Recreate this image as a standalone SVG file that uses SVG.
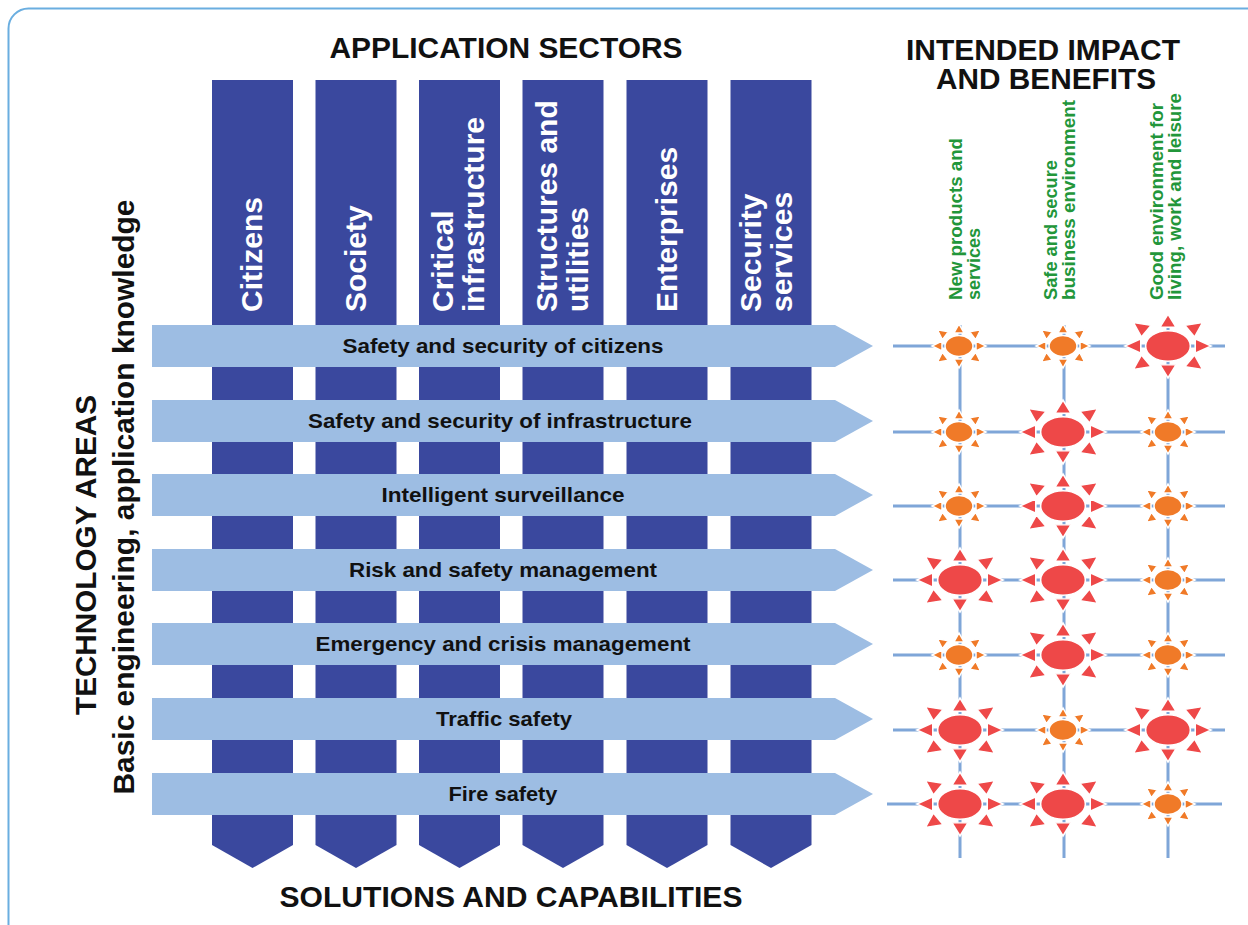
<svg xmlns="http://www.w3.org/2000/svg" xmlns:xlink="http://www.w3.org/1999/xlink" width="1248" height="925" viewBox="0 0 1248 925">
<style>
.col{fill:#3A489E}
.bar{fill:#9DBDE3}
.colt{font-family:"Liberation Sans",Arial,sans-serif;font-weight:bold;font-size:30px;fill:#FFFFFF}
.rowt{font-family:"Liberation Sans",Arial,sans-serif;font-weight:bold;font-size:21px;fill:#111111;text-anchor:middle}
.title{font-family:"Liberation Sans",Arial,sans-serif;font-weight:bold;font-size:29px;fill:#111111;text-anchor:middle}
.side{font-family:"Liberation Sans",Arial,sans-serif;font-weight:bold;font-size:29.5px;fill:#111111;text-anchor:middle}
.green{font-family:"Liberation Sans",Arial,sans-serif;font-weight:bold;font-size:18px;fill:#22963A}
.grid{stroke:#7FA6D8;stroke-width:3;fill:none}
.sS{fill:#F07A28;stroke:#FFFFFF;stroke-width:1.5}
.sL{fill:#EE4848;stroke:#FFFFFF;stroke-width:1}
</style>
<defs>
<g id="star">
<ellipse cx="0" cy="0" rx="14" ry="10.5"/>
<path d="M17,-5 L27,0 L17,5Z M-17,-5 L-27,0 L-17,5Z M-5,-13 L0,-22 L5,-13Z M-5,13 L0,22 L5,13Z M16.6,-6.2 L21.6,-16.2 L10.6,-14.2Z M-16.6,-6.2 L-21.6,-16.2 L-10.6,-14.2Z M16.6,6.2 L21.6,16.2 L10.6,14.2Z M-16.6,6.2 L-21.6,16.2 L-10.6,14.2Z"/>
</g>
</defs>
<rect x="8.5" y="8.5" width="1300" height="1000" rx="20" ry="20" fill="none" stroke="#6AAEE0" stroke-width="2"/>

<text class="title" x="506" y="58" textLength="353" lengthAdjust="spacingAndGlyphs">APPLICATION SECTORS</text>
<text class="title" x="1043" y="60" textLength="274" lengthAdjust="spacingAndGlyphs">INTENDED IMPACT</text>
<text class="title" x="1046" y="89" textLength="220" lengthAdjust="spacingAndGlyphs">AND BENEFITS</text>
<text class="title" x="511" y="907" font-size="30" textLength="463" lengthAdjust="spacingAndGlyphs">SOLUTIONS AND CAPABILITIES</text>
<text class="side" transform="translate(96,555) rotate(-90)" textLength="320" lengthAdjust="spacingAndGlyphs">TECHNOLOGY AREAS</text>
<text class="side" transform="translate(134,497) rotate(-90)" textLength="595" lengthAdjust="spacingAndGlyphs">Basic engineering, application knowledge</text>

<g id="col-citizens"><path class="col" d="M212,80 H293 V845 L252.5,868 L212,845Z"/><text class="colt" transform="translate(262,312) rotate(-90)">Citizens</text></g>
<g id="col-society"><path class="col" d="M315.5,80 H396.5 V845 L356,868 L315.5,845Z"/><text class="colt" transform="translate(366,312) rotate(-90)">Society</text></g>
<g id="col-critical"><path class="col" d="M419,80 H500 V845 L459.5,868 L419,845Z"/><text class="colt" transform="translate(453,312) rotate(-90)"><tspan x="0" y="0">Critical</tspan><tspan x="0" y="31">infrastructure</tspan></text></g>
<g id="col-structures"><path class="col" d="M522.5,80 H603.5 V845 L563,868 L522.5,845Z"/><text class="colt" transform="translate(557,312) rotate(-90)"><tspan x="0" y="0">Structures and</tspan><tspan x="0" y="31">utilities</tspan></text></g>
<g id="col-enterprises"><path class="col" d="M626.5,80 H707.5 V845 L667,868 L626.5,845Z"/><text class="colt" transform="translate(677,312) rotate(-90)">Enterprises</text></g>
<g id="col-security"><path class="col" d="M730.5,80 H811.5 V845 L771,868 L730.5,845Z"/><text class="colt" transform="translate(761,312) rotate(-90)"><tspan x="0" y="0">Security</tspan><tspan x="0" y="31">services</tspan></text></g>

<g id="row-citizens"><path class="bar" d="M152,325 H835 L873,346 L835,367 H152Z"/><text class="rowt" x="503" y="353" textLength="321" lengthAdjust="spacingAndGlyphs">Safety and security of citizens</text></g>
<g id="row-infrastructure"><path class="bar" d="M152,400 H835 L873,421 L835,442 H152Z"/><text class="rowt" x="500" y="428" textLength="384" lengthAdjust="spacingAndGlyphs">Safety and security of infrastructure</text></g>
<g id="row-surveillance"><path class="bar" d="M152,474 H835 L873,495 L835,516 H152Z"/><text class="rowt" x="503" y="502" textLength="243" lengthAdjust="spacingAndGlyphs">Intelligent surveillance</text></g>
<g id="row-risk"><path class="bar" d="M152,549 H835 L873,570 L835,591 H152Z"/><text class="rowt" x="503" y="577" textLength="308" lengthAdjust="spacingAndGlyphs">Risk and safety management</text></g>
<g id="row-emergency"><path class="bar" d="M152,623 H835 L873,644 L835,665 H152Z"/><text class="rowt" x="503" y="651" textLength="375" lengthAdjust="spacingAndGlyphs">Emergency and crisis management</text></g>
<g id="row-traffic"><path class="bar" d="M152,698 H835 L873,719 L835,740 H152Z"/><text class="rowt" x="504" y="726" textLength="136" lengthAdjust="spacingAndGlyphs">Traffic safety</text></g>
<g id="row-fire"><path class="bar" d="M152,773 H835 L873,794 L835,815 H152Z"/><text class="rowt" x="503" y="801" textLength="109" lengthAdjust="spacingAndGlyphs">Fire safety</text></g>

<g id="benefit-products"><text class="green" transform="translate(962,300) rotate(-90)"><tspan x="0" y="0" textLength="162" lengthAdjust="spacingAndGlyphs">New products and</tspan><tspan x="0" y="18" textLength="72" lengthAdjust="spacingAndGlyphs">services</tspan></text></g>
<g id="benefit-business"><text class="green" transform="translate(1057,300) rotate(-90)"><tspan x="0" y="0" textLength="140" lengthAdjust="spacingAndGlyphs">Safe and secure</tspan><tspan x="0" y="18" textLength="200" lengthAdjust="spacingAndGlyphs">business environment</tspan></text></g>
<g id="benefit-living"><text class="green" transform="translate(1163,300) rotate(-90)"><tspan x="0" y="0" textLength="197" lengthAdjust="spacingAndGlyphs">Good environment for</tspan><tspan x="0" y="18" textLength="207" lengthAdjust="spacingAndGlyphs">living, work and leisure</tspan></text></g>

<g id="connectors" class="grid">
<line x1="960" y1="325" x2="960" y2="858"/>
<line x1="1064" y1="325" x2="1064" y2="858"/>
<line x1="1168" y1="325" x2="1168" y2="858"/>
<line x1="893" y1="346" x2="1225" y2="346"/>
<line x1="893" y1="432" x2="1225" y2="432"/>
<line x1="893" y1="506" x2="1225" y2="506"/>
<line x1="893" y1="580" x2="1225" y2="580"/>
<line x1="893" y1="655" x2="1225" y2="655"/>
<line x1="893" y1="730" x2="1225" y2="730"/>
<line x1="887" y1="804" x2="1222" y2="804"/>
</g>

<g id="impacts">
<use xlink:href="#star" class="sS" transform="translate(959,346)"/>
<use xlink:href="#star" class="sS" transform="translate(1063,346)"/>
<use xlink:href="#star" class="sL" transform="translate(1168,346) scale(1.6,1.45)"/>
<use xlink:href="#star" class="sS" transform="translate(959,432)"/>
<use xlink:href="#star" class="sL" transform="translate(1063,432) scale(1.6,1.45)"/>
<use xlink:href="#star" class="sS" transform="translate(1168,432)"/>
<use xlink:href="#star" class="sS" transform="translate(959,506)"/>
<use xlink:href="#star" class="sL" transform="translate(1063,506) scale(1.6,1.45)"/>
<use xlink:href="#star" class="sS" transform="translate(1168,506)"/>
<use xlink:href="#star" class="sL" transform="translate(960,580) scale(1.6,1.45)"/>
<use xlink:href="#star" class="sL" transform="translate(1063,580) scale(1.6,1.45)"/>
<use xlink:href="#star" class="sS" transform="translate(1168,580)"/>
<use xlink:href="#star" class="sS" transform="translate(959,655)"/>
<use xlink:href="#star" class="sL" transform="translate(1063,655) scale(1.6,1.45)"/>
<use xlink:href="#star" class="sS" transform="translate(1168,655)"/>
<use xlink:href="#star" class="sL" transform="translate(960,730) scale(1.6,1.45)"/>
<use xlink:href="#star" class="sS" transform="translate(1063,730)"/>
<use xlink:href="#star" class="sL" transform="translate(1168,730) scale(1.6,1.45)"/>
<use xlink:href="#star" class="sL" transform="translate(960,804) scale(1.6,1.45)"/>
<use xlink:href="#star" class="sL" transform="translate(1063,804) scale(1.6,1.45)"/>
<use xlink:href="#star" class="sS" transform="translate(1168,804)"/>
</g>
</svg>
